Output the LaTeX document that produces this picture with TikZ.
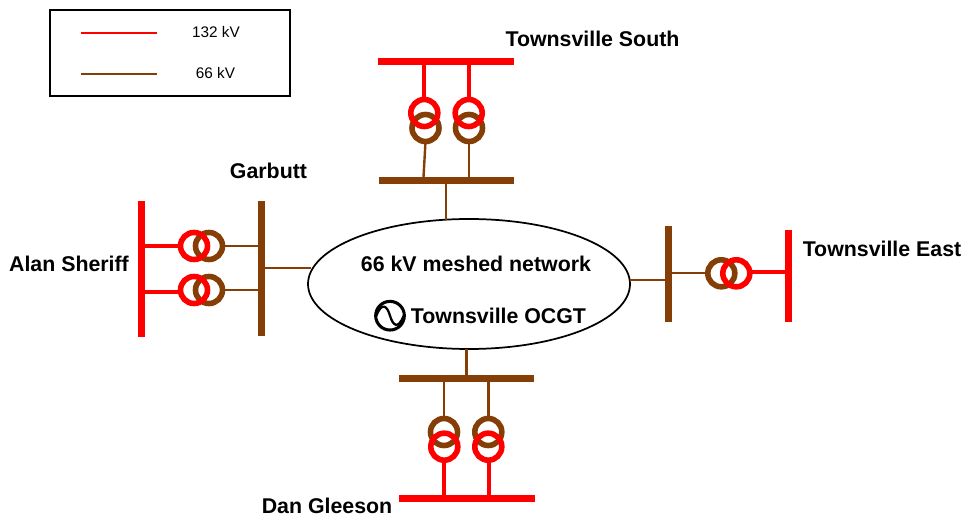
\documentclass[tikz,border=0pt]{standalone}
\usepackage{fontspec}
\usetikzlibrary{shapes.geometric}
\setmainfont{Liberation Sans}
\definecolor{hv}{RGB}{255,0,0}
\definecolor{mv}{RGB}{132,62,6}
\tikzset{
  x=0.75pt,y=-0.75pt,
  busbar/.style={fill=#1,inner sep=0pt,outer sep=0pt,draw=none},
  hring/.style={circle,draw=hv,line width=4.2pt,minimum size=20.25pt,inner sep=0pt,outer sep=0pt},
  mring/.style={circle,draw=mv,line width=4.2pt,minimum size=20.25pt,inner sep=0pt,outer sep=0pt},
  hline/.style={draw=hv,line width=3pt},
  mline/.style={draw=mv,line width=1.8pt},
  lbl/.style={font=\bfseries\fontsize{16}{18}\selectfont,inner sep=0pt,text=black},
  leg/.style={font=\fontsize{11.5}{13}\selectfont,inner sep=0pt,text=black},
}
\newcommand{\hbus}[5]{\node[busbar=#5,minimum width=#3*0.75pt,minimum height=#4*0.75pt] (#1) at #2 {};}
\begin{document}
\begin{tikzpicture}
\useasboundingbox (0,0) rectangle (964,516);
% legend
\node[draw=black,line width=1.6pt,minimum width=240*0.75pt,minimum height=86*0.75pt,inner sep=0pt] (legend) at (170,52.7) {};
\coordinate (la) at (81,33); \coordinate (lb) at (157,33);
\coordinate (lc) at (81,74); \coordinate (ld) at (157,74);
\draw[hv,line width=1.9pt] (la) -- (lb);
\draw[mv,line width=1.9pt] (lc) -- (ld);
\node[leg] (t132) at (216,32.5) {132 kV};
\node[leg] (t66) at (215.5,73.5) {66 kV};
% network
\node[draw=black,line width=1.3pt,ellipse,minimum width=322*0.75pt,minimum height=130*0.75pt,inner sep=0pt,outer sep=0pt] (net) at (469,284) {};
\coordinate (nT) at (446,220);
\coordinate (nB) at (466.5,349);
\coordinate (nL) at (311,268.3);
\coordinate (nR) at (630,280);
% Townsville South
\hbus{tsH}{(446,61.3)}{136}{6.6}{hv}
\hbus{tsM}{(446.5,180.5)}{135}{6.6}{mv}
\node[mring] (tsM1) at (425.5,128) {};
\node[mring] (tsM2) at (469,128) {};
\node[hring] (tsH1) at (424.3,113) {};
\node[hring] (tsH2) at (468.7,113) {};
\draw[hline] (tsH1.north) -- (tsH1.north |- tsH.south);
\draw[hline] (tsH2.north) -- (tsH2.north |- tsH.south);
\draw[mline] (tsM1.south) -- ([xshift=-1.5pt]tsM1.south |- tsM.north);
\draw[mline] (tsM2.south) -- (tsM2.south |- tsM.north);
\draw[mline] (nT) -- (nT |- tsM.south);
% Garbutt / Alan Sheriff
\node[busbar=hv,minimum width=6.6*0.75pt,minimum height=136*0.75pt] (asH) at (141.5,269) {};
\node[busbar=mv,minimum width=6.6*0.75pt,minimum height=135*0.75pt] (gaM) at (261.3,268.5) {};
\node[mring] (gaM1) at (209,246) {};
\node[mring] (gaM2) at (209,290) {};
\node[hring] (gaH1) at (194,246) {};
\node[hring] (gaH2) at (194,290) {};
\draw[hline] (gaH1.west) -- (gaH1.west -| asH.east);
\draw[hline] ([yshift=-1.2pt]gaH2.west) -- ([yshift=-1.2pt]gaH2.west -| asH.east);
\draw[mline] (gaM1.east) -- (gaM1.east -| gaM.west);
\draw[mline] (gaM2.east) -- (gaM2.east -| gaM.west);
\draw[mline] (gaM.east |- nL) -- (nL);
% Dan Gleeson
\hbus{dgM}{(466.5,378.3)}{135}{6.6}{mv}
\hbus{dgH}{(467,498.3)}{136}{6.6}{hv}
\node[mring] (dgM1) at (444,432) {};
\node[mring] (dgM2) at (488.3,432) {};
\node[hring] (dgH1) at (444.3,446.7) {};
\node[hring] (dgH2) at (488.3,446.7) {};
\draw[mline] (dgM1.north) -- (dgM1.north |- dgM.south);
\draw[mline] (dgM2.north) -- (dgM2.north |- dgM.south);
\draw[hline] (dgH1.south) -- (dgH1.south |- dgH.north);
\draw[hline] ([xshift=0.5pt]dgH2.south) -- ([xshift=0.5pt]dgH2.south |- dgH.north);
\draw[mline] (nB) -- (nB |- dgM.north);
% Townsville East
\node[busbar=mv,minimum width=6.6*0.75pt,minimum height=96*0.75pt] (teM) at (668.3,274) {};
\node[busbar=hv,minimum width=6.6*0.75pt,minimum height=92*0.75pt] (teH) at (788.3,276) {};
\node[mring] (teM1) at (721.3,273.3) {};
\node[hring] (teH1) at (736.3,273.3) {};
\draw[mline] (teM1.west) -- (teM1.west -| teM.east);
\draw[hline] ([yshift=1.2pt]teH1.east) -- ([yshift=1.2pt]teH1.east -| teH.west);
\draw[mline] (nR) -- (nR -| teM.west);
% generator
\node[circle,draw=black,line width=2.3pt,minimum size=21.5pt,inner sep=0pt,outer sep=0pt] (gen) at (390,315.7) {};
\draw[black,line width=1.7pt] ([xshift=-10.2pt]gen.center) .. controls ([xshift=-6pt,yshift=11pt]gen.center) and ([xshift=-2pt,yshift=7pt]gen.center) .. (gen.center) .. controls ([xshift=2pt,yshift=-7pt]gen.center) and ([xshift=6pt,yshift=-11pt]gen.center) .. ([xshift=10.2pt]gen.center);
% labels
\node[lbl] (ltS) at (592.5,38.5) {Townsville South};
\node[lbl] (lga) at (268.5,170.5) {Garbutt};
\node[lbl] (las) at (69,263.5) {Alan Sheriff};
\node[lbl] (lte) at (882,249) {Townsville East};
\node[lbl] (ldg) at (327,505.5) {Dan Gleeson};
\node[lbl] (lmn) at (476,264) {66 kV meshed network};
\node[lbl] (locgt) at (498.5,316) {Townsville OCGT};
\end{tikzpicture}
\end{document}
